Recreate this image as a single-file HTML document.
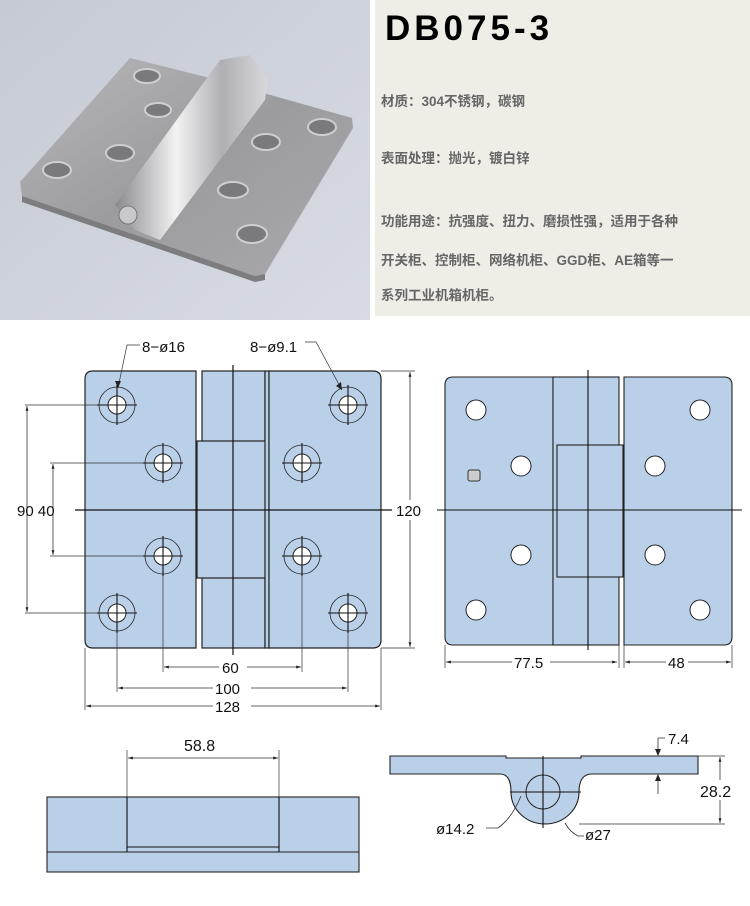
<!DOCTYPE html>
<html><head><meta charset="utf-8"><style>
html,body{margin:0;padding:0;background:#fff;width:750px;height:906px;overflow:hidden}
svg{display:block}
.t{font-family:"Liberation Sans",sans-serif;font-size:15px;fill:#111}
.c{font-family:"Liberation Sans","Noto Sans CJK SC",sans-serif;font-size:13.5px;font-weight:bold;fill:#666}
</style></head><body>
<svg width="750" height="906" viewBox="0 0 750 906" xmlns="http://www.w3.org/2000/svg">
<defs>
<linearGradient id="bg" x1="0" y1="0" x2="1" y2="1"><stop offset="0" stop-color="#c5cad4"/><stop offset="1" stop-color="#d8dbe2"/></linearGradient>
<linearGradient id="pl" x1="0" y1="0" x2="1" y2="1"><stop offset="0" stop-color="#b8b8ba"/><stop offset="0.5" stop-color="#9c9c9f"/><stop offset="1" stop-color="#a9a9ac"/></linearGradient>
<linearGradient id="kn" x1="0" y1="0" x2="1" y2="0"><stop offset="0" stop-color="#8a8a8e"/><stop offset="0.4" stop-color="#f2f2f2"/><stop offset="0.7" stop-color="#b0b0b4"/><stop offset="1" stop-color="#d8d8da"/></linearGradient>
<marker id="a" viewBox="0 0 10 10" refX="10" refY="5" markerWidth="8" markerHeight="6" orient="auto-start-reverse"><path d="M0,2 L10,5 L0,8 z" fill="#222"/></marker>
</defs>
<!-- photo -->
<rect x="0" y="0" width="370" height="320" fill="url(#bg)"/>
<polygon points="130,58 210,78 352,118 353,128 265,274 255,276 22,196 20,182" fill="url(#pl)"/>
<polygon points="22,196 255,276 265,274 265,280 255,282 22,202" fill="#7d7d80"/>
<g fill="#7a7a7d" stroke="#cfcfd1" stroke-width="2">
<ellipse cx="147" cy="76" rx="13" ry="7"/><ellipse cx="158" cy="110" rx="13" ry="7"/><ellipse cx="120" cy="153" rx="14" ry="8"/><ellipse cx="57" cy="170" rx="14" ry="8"/>
<ellipse cx="322" cy="127" rx="14" ry="8"/><ellipse cx="266" cy="142" rx="14" ry="8"/><ellipse cx="233" cy="190" rx="15" ry="8"/><ellipse cx="252" cy="234" rx="15" ry="9"/>
</g>
<polygon points="220,60 250,55 268,80 265,100 160,240 135,230 115,205" fill="url(#kn)"/>
<circle cx="128" cy="215" r="9" fill="#c9c9cb" stroke="#777"/>
<rect x="375" y="0" width="375" height="316" fill="#eeede6"/>
<text x="385" y="40" style="font-family:'Liberation Sans',sans-serif;font-weight:bold;font-size:35px;letter-spacing:4px" fill="#000">DB075-3</text>
<text class="c" x="381" y="106">材质：304不锈钢，碳钢</text>
<text class="c" x="381" y="163">表面处理：抛光，镀白锌</text>
<text class="c" x="381" y="226">功能用途：抗强度、扭力、磨损性强，适用于各种</text>
<text class="c" x="381" y="265">开关柜、控制柜、网络机柜、GGD柜、AE箱等一</text>
<text class="c" x="381" y="300">系列工业机箱机柜。</text>

<!-- front view -->
<g fill="#b9d0e8" stroke="#222" stroke-width="1.2">
<path d="M93,371 H196 V648 H93 Q85,648 85,640 V379 Q85,371 93,371 Z"/>
<rect x="202" y="371" width="63" height="277"/>
<rect x="197" y="441" width="73" height="137"/>
<rect x="265" y="371" width="4" height="277"/>
<path d="M269,371 H373 Q381,371 381,379 V640 Q381,648 373,648 H269 Z"/>
</g>
<line x1="233" y1="365" x2="233" y2="655" stroke="#111" stroke-width="1.2"/>
<line x1="75" y1="510" x2="392" y2="510" stroke="#111" stroke-width="1.2"/>
<g fill="#fff" stroke="#222" stroke-width="1">
<circle cx="117" cy="405" r="9"/><circle cx="163" cy="463" r="9"/><circle cx="163" cy="556" r="9"/><circle cx="117" cy="613" r="9"/>
<circle cx="348" cy="405" r="9"/><circle cx="302" cy="463" r="9"/><circle cx="302" cy="556" r="9"/><circle cx="348" cy="613" r="9"/>
</g>
<g fill="none" stroke="#222" stroke-width="0.8">
<circle cx="117" cy="405" r="18"/><circle cx="163" cy="463" r="18"/><circle cx="163" cy="556" r="18"/><circle cx="117" cy="613" r="18"/>
<circle cx="348" cy="405" r="18"/><circle cx="302" cy="463" r="18"/><circle cx="302" cy="556" r="18"/><circle cx="348" cy="613" r="18"/>
</g>
<g stroke="#111" stroke-width="1.1">
<path d="M97,405h40M117,385v40M143,463h40M163,443v40M143,556h40M163,536v40M97,613h40M117,593v40M328,405h40M348,385v40M282,463h40M302,443v40M282,556h40M302,536v40M328,613h40M348,593v40"/>
</g>
<g stroke="#333" stroke-width="0.7" fill="none">
<path d="M25,405H97M25,613H97M50,463H143M50,556H143"/>
<path d="M381,371H415M381,648H415"/>
<path d="M163,576V672M302,576V672M117,633V692M348,633V692M85,648V710M381,648V710"/>
<path d="M118,388 L127,345 H140"/><path d="M342,390 L316,342 H305"/>
</g>
<g stroke="#333" stroke-width="0.8" fill="none" marker-start="url(#a)" marker-end="url(#a)">
<line x1="27" y1="406" x2="27" y2="612"/><line x1="53" y1="464" x2="53" y2="555"/>
<line x1="410" y1="372" x2="410" y2="647"/>
<line x1="164" y1="667" x2="301" y2="667"/><line x1="118" y1="688" x2="347" y2="688"/><line x1="86" y1="706" x2="380" y2="706"/>
</g>
<g class="t">
<rect x="219" y="658" width="28" height="16" fill="#fff"/><text class="t" x="222" y="673">60</text>
<rect x="213" y="679" width="38" height="16" fill="#fff"/><text class="t" x="215" y="694">100</text>
<rect x="213" y="697" width="38" height="16" fill="#fff"/><text class="t" x="215" y="712">128</text>
<text class="t" x="17" y="516">90 40</text>
<rect x="394" y="500" width="36" height="20" fill="#fff"/><text class="t" x="396" y="516">120</text>
<text class="t" x="142" y="352">8−ø16</text>
<text class="t" x="250" y="352">8−ø9.1</text>
</g>
<path d="M118,388 l-3,-7 l6,0 z" fill="#222"/><path d="M342,390 l-6,-4 l5,-4 z" fill="#222"/>

<!-- side view -->
<g fill="#b9d0e8" stroke="#222" stroke-width="1.1">
<path d="M453,377 H553 V645 H453 Q445,645 445,637 V385 Q445,377 453,377 Z"/>
<rect x="553" y="377" width="66" height="268"/>
<rect x="557" y="445" width="66" height="132"/>
<path d="M624,377 H724 Q732,377 732,385 V637 Q732,645 724,645 H624 Z"/>
</g>
<line x1="588" y1="370" x2="588" y2="650" stroke="#111" stroke-width="1.1"/>
<line x1="437" y1="510" x2="742" y2="510" stroke="#111" stroke-width="1.1"/>
<g fill="#fff" stroke="#222" stroke-width="1">
<circle cx="476" cy="410" r="10"/><circle cx="521" cy="466" r="10"/><circle cx="521" cy="555" r="10"/><circle cx="476" cy="610" r="10"/>
<circle cx="700" cy="410" r="10"/><circle cx="655" cy="466" r="10"/><circle cx="655" cy="555" r="10"/><circle cx="700" cy="610" r="10"/>
</g>
<rect x="468" y="470" width="12" height="11" rx="2" fill="#ccc" stroke="#333"/>
<g stroke="#333" stroke-width="0.7"><path d="M445,645V668M619,645V668M624,645V668M732,645V668"/></g>
<g stroke="#333" stroke-width="0.8" marker-start="url(#a)" marker-end="url(#a)">
<line x1="446" y1="662" x2="617" y2="662"/><line x1="625" y1="662" x2="731" y2="662"/>
</g>
<rect x="512" y="653" width="38" height="16" fill="#fff"/><text class="t" x="514" y="668">77.5</text>
<rect x="666" y="653" width="22" height="16" fill="#fff"/><text class="t" x="668" y="668">48</text>

<!-- bottom left -->
<rect x="47" y="797" width="312" height="75" fill="#b9d0e8" stroke="#222" stroke-width="1.1"/>
<line x1="47" y1="852" x2="359" y2="852" stroke="#222"/>
<path d="M127,797V852M279,797V852M127,847H279" stroke="#111" stroke-width="1.1" fill="none"/>
<path d="M127,797V750M279,797V750" stroke="#333" stroke-width="0.7"/>
<line x1="128" y1="758" x2="278" y2="758" stroke="#333" stroke-width="0.8" marker-start="url(#a)" marker-end="url(#a)"/>
<text class="t" x="184" y="751" style="font-size:16px">58.8</text>

<!-- bottom right -->
<path d="M390,756 H506 V758 H581 V756 H698 V774 H592 Q579,774 579,792 A34,32 0 0 1 511,792 Q511,774 500,774 H390 Z" fill="#b9d0e8" stroke="#222" stroke-width="1.1"/>
<circle cx="543" cy="792" r="17" fill="none" stroke="#222"/>
<path d="M510,792H581M543,756V828" stroke="#111" stroke-width="1.1"/>
<path d="M698,756H725M579,824H725" stroke="#333" stroke-width="0.7"/>
<line x1="720" y1="757" x2="720" y2="823" stroke="#333" stroke-width="0.8" marker-start="url(#a)" marker-end="url(#a)"/>
<rox/>
<rect x="698" y="780" width="42" height="20" fill="#fff"/><text class="t" x="700" y="797" style="font-size:16px">28.2</text>
<path d="M658,738 V755 M658,775 V794 M658,738 H665" stroke="#333" stroke-width="0.8" fill="none"/>
<path d="M658,756 l-3,-7 h6 z M658,774 l-3,7 h6 z" fill="#222"/>
<text class="t" x="668" y="744">7.4</text>
<path d="M521,796 Q512,818 498,828 H486" stroke="#333" stroke-width="0.8" fill="none"/>
<text class="t" x="436" y="834">ø14.2</text>
<path d="M565,823 Q570,832 578,836 H584" stroke="#333" stroke-width="0.8" fill="none"/>
<text class="t" x="585" y="840">ø27</text>
</svg>
</body></html>
